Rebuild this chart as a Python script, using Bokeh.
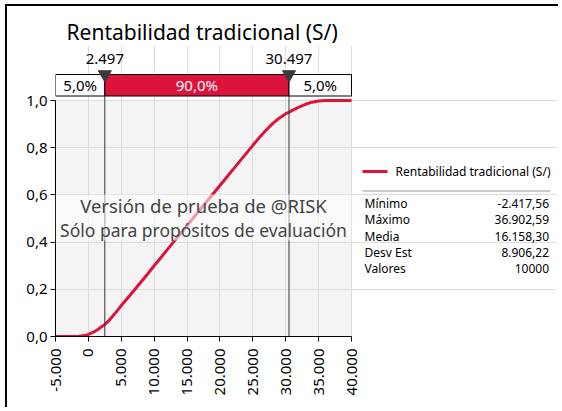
import math
from bokeh.plotting import figure
from bokeh.models import Range1d, FixedTicker, Label, BoxAnnotation
from bokeh.embed import file_html
from bokeh.resources import INLINE
from bokeh.core.properties import value

# ---------------- data ----------------
title_text = "Rentabilidad tradicional (S/)"
series_name = "Rentabilidad tradicional (S/)"

cdf_x = [-5000, -3000, -1500, -500, 0, 500, 1000, 1500, 2000, 2500, 3000, 4000,
         5000, 6000, 7000, 8000, 9000, 10000, 11000, 12000, 13000, 14000, 15000,
         16000, 17000, 18000, 19000, 20000, 21000, 22000, 23000, 24000, 25000,
         26000, 27000, 28000, 29000, 30000, 30500, 31000, 32000, 33000, 34000,
         35000, 36000, 40000]
cdf_p = [0.0, 0.0, 0.001, 0.004, 0.009, 0.015, 0.022, 0.031, 0.041, 0.051, 0.064, 0.096,
         0.131, 0.164, 0.197, 0.231, 0.265, 0.300, 0.334, 0.368, 0.402, 0.436, 0.470,
         0.504, 0.538, 0.572, 0.606, 0.640, 0.674, 0.708, 0.742, 0.776, 0.810,
         0.843, 0.874, 0.902, 0.925, 0.944, 0.950, 0.958, 0.972, 0.984, 0.993,
         0.998, 1.0, 1.0]

x_min, x_max = -5000, 40000
x_ticks = [-5000, 0, 5000, 10000, 15000, 20000, 25000, 30000, 35000, 40000]
x_tick_labels = ["-5.000", "0", "5.000", "10.000", "15.000", "20.000", "25.000",
                 "30.000", "35.000", "40.000"]
y_ticks = [0, 0.2, 0.4, 0.6, 0.8, 1]
y_tick_labels = ["0,0", "0,2", "0,4", "0,6", "0,8", "1,0"]

pct_marks = [2497, 30497]
pct_mark_labels = ["2.497", "30.497"]
pct_bands = ["5,0%", "90,0%", "5,0%"]

stat_names = ["Mínimo", "Máximo", "Media", "Desv Est", "Valores"]
stat_values = ["-2.417,56", "36.902,59", "16.158,30", "8.906,22", "10000"]

watermark = ["Versión de prueba de @RISK", "Sólo para propósitos de evaluación"]

# ---------------- layout / style ----------------
FONT = "Noto Sans"
RED = "#DC143C"
W, H = 553, 403
MB_L, MB_R, MB_T, MB_B = 48, 4, 39, 73
FRAME_W = W - MB_L - MB_R          # 501
FRAME_H = H - MB_T - MB_B          # 291
PLOT_W, PLOT_H = 296, 236          # size of the data area inside the frame
x_end = x_min + (x_max - x_min) * FRAME_W / PLOT_W
y_top = FRAME_H / PLOT_H
bar_bot = 1 + 4.5 / PLOT_H
bar_top = 1 + 26 / PLOT_H
lab_y = 1 + 42 / PLOT_H

p = figure(width=W, height=H, x_range=Range1d(x_min, x_end),
           y_range=Range1d(0, y_top), output_backend="svg", toolbar_location=None,
           min_border_left=MB_L, min_border_right=MB_R, min_border_top=MB_T,
           min_border_bottom=MB_B, title=title_text)
# pixel ranges of the frame, used for the side panel (legend + statistics)
p.extra_x_ranges = {"px": Range1d(0, FRAME_W)}
p.extra_y_ranges = {"py": Range1d(FRAME_H, 0)}
p.outline_line_color = None
p.background_fill_color = "white"
p.border_fill_color = "white"
p.styles = {"margin-left": "5px", "margin-top": "4px",
            "border-left": "2px solid black", "border-top": "2px solid black"}

p.title.text_font = FONT
p.title.text_font_size = "21px"
p.title.text_font_style = "normal"
p.title.align = "left"
p.title.offset = 11
p.title.text_color = "black"
p.title.standoff = 0

# plot-area background and grid
bg = p.quad(left=[x_min], right=[x_max], bottom=[0], top=[1],
            fill_color="#F4F4F4", line_color=None)
bg.level = "image"
for g in (p.xgrid, p.ygrid):
    g.grid_line_color = "#DCDCDC"
    g.grid_line_width = 1
p.xgrid.ticker = FixedTicker(ticks=x_ticks)
p.ygrid.ticker = FixedTicker(ticks=y_ticks)
cover_top = p.quad(left=[x_min], right=[x_end], bottom=[1], top=[y_top],
                   fill_color="white", line_color=None)
cover_top.level = "underlay"
cover_right = p.quad(left=[x_max + 60], right=[x_end], bottom=[0], top=[y_top],
                     fill_color="white", line_color=None)
cover_right.level = "underlay"

# axes
p.xaxis.ticker = FixedTicker(ticks=x_ticks)
p.xaxis.major_label_overrides = {t: l for t, l in zip(x_ticks, x_tick_labels)}
p.xaxis.major_label_orientation = math.pi / 2
p.xaxis.bounds = (x_min, x_max)
p.yaxis.ticker = FixedTicker(ticks=y_ticks)
p.yaxis.major_label_overrides = {t: l for t, l in zip(y_ticks, y_tick_labels)}
p.yaxis.bounds = (0, 1)
for ax in (p.xaxis, p.yaxis):
    ax.major_label_text_font = FONT
    ax.major_label_text_font_size = "15px"
    ax.major_label_text_color = "black"
    ax.axis_line_color = "black"
    ax.major_tick_line_color = "black"
    ax.major_tick_out = 5
    ax.major_tick_in = 0
    ax.minor_tick_line_color = None
p.xaxis.major_label_standoff = 7
p.yaxis.major_label_standoff = 3

# cumulative curve
p.line(cdf_x, cdf_p, line_color=RED, line_width=3)

# percentile markers
p.segment(x0=pct_marks, x1=pct_marks, y0=[0, 0], y1=[bar_top, bar_top],
          line_color="#333333", line_width=1)
lefts = [x_min] + pct_marks
rights = pct_marks + [x_max]
p.quad(left=lefts, right=rights, bottom=bar_bot, top=bar_top,
       fill_color=["white", RED, "white"], line_color="black", line_width=1)
p.text(x=[(a + b) / 2 for a, b in zip(lefts, rights)], y=[(bar_bot + bar_top) / 2] * 3,
       text=pct_bands, text_color=["black", "white", "black"], text_font=value(FONT),
       text_font_size="15px", text_align="center", text_baseline="middle")
p.scatter(x=pct_marks, y=[bar_top] * 2, marker="inverted_triangle", size=13,
          fill_color="#3A3A3A", line_color="#3A3A3A")
p.text(x=pct_marks, y=[lab_y] * 2, text=pct_mark_labels, text_color="black",
       text_font=value(FONT), text_font_size="15px", text_align="center",
       text_baseline="middle")

# watermark
p.add_layout(BoxAnnotation(left=x_min, right=x_max, bottom=0.407, top=0.602,
                           fill_color="white", fill_alpha=0.55, line_color=None))
for txt, yy, fs in zip(watermark, [0.555, 0.453], ["18.5px", "17.5px"]):
    p.add_layout(Label(x=(x_min + x_max) / 2, y=yy, text=txt, text_font=FONT,
                       text_font_size=fs, text_color="#444444",
                       text_align="center", text_baseline="middle"))

# ---------------- side panel (legend + statistics), in frame pixels ----------------
side = dict(x_range_name="px", y_range_name="py")
p.segment(x0=[307], x1=[332], y0=[126], y1=[126], line_color=RED, line_width=3, **side)
p.text(x=[340], y=[126], text=[series_name], text_font=value(FONT),
       text_font_size="12px", text_align="left", text_baseline="middle",
       text_color="black", **side)
p.segment(x0=[307], x1=[495], y0=[145.5], y1=[145.5], line_color="#999999",
          line_width=1, **side)
rows_y = [157.7 + 16.4 * i for i in range(len(stat_names))]
p.text(x=[309] * len(stat_names), y=rows_y, text=stat_names, text_font=value(FONT),
       text_font_size="12px", text_align="left", text_baseline="middle",
       text_color="black", **side)
p.text(x=[493.5] * len(stat_values), y=rows_y, text=stat_values, text_font=value(FONT),
       text_font_size="12px", text_align="right", text_baseline="middle",
       text_color="black", **side)

open("out.html", "w").write(file_html(p, INLINE))
